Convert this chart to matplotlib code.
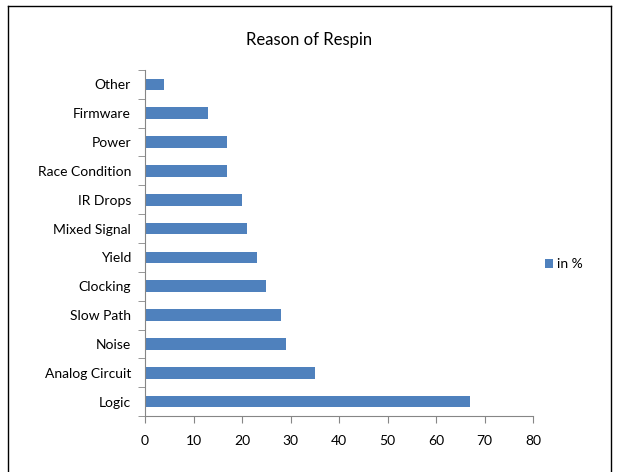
import matplotlib.pyplot as plt
from matplotlib.lines import Line2D

categories = ['Logic', 'Analog Circuit', 'Noise', 'Slow Path', 'Clocking', 'Yield',
              'Mixed Signal', 'IR Drops', 'Race Condition', 'Power', 'Firmware', 'Other']
values = [67, 35, 29, 28, 25, 23, 21, 20, 17, 17, 13, 4]
series_name = 'in %'
x_ticks = [0, 10, 20, 30, 40, 50, 60, 70, 80]

plt.rcParams['font.family'] = ['Lato', 'DejaVu Sans']

fig = plt.figure(figsize=(6.19, 4.72), dpi=100)
ax = fig.add_axes([145 / 619, 1 - 416 / 472, (533 - 145) / 619, (416 - 70) / 472])

bars = ax.barh(range(len(categories)), values, height=0.4, color='#4F81BD', label=series_name)

ax.set_xlim(0, 80)
ax.set_ylim(-0.5, len(categories) - 0.5)
ax.set_xticks(x_ticks)
ax.set_xticklabels([str(t) for t in x_ticks], fontsize=10)
ax.set_yticks(range(len(categories)))
ax.set_yticklabels(categories, fontsize=10)
ax.tick_params(axis='y', length=0, pad=10)
ax.tick_params(axis='x', length=5, color='#868686', pad=9, direction='out')
ax.set_yticks([i - 0.5 for i in range(len(categories) + 1)], minor=True)
ax.tick_params(axis='y', which='minor', length=5, color='#868686', direction='out')

for s in ['top', 'right']:
    ax.spines[s].set_visible(False)
for s in ['left', 'bottom']:
    ax.spines[s].set_color('#868686')

fig.text(0.5, 1 - 40 / 472, 'Reason of Respin', ha='center', va='center', fontsize=12)

fig.legend(handles=[bars], labels=[series_name], loc='center left',
           bbox_to_anchor=(532 / 619, 1 - 264 / 472), frameon=False, fontsize=10,
           handlelength=0.6, handleheight=0.6, handletextpad=0.3)

# chart border
for xs, ys in [([8, 8], [472, 6]), ([8, 611], [6, 6]), ([611, 611], [6, 472])]:
    fig.add_artist(Line2D([x / 619 for x in xs], [1 - y / 472 for y in ys],
                          color='black', lw=1))

fig.savefig('out.png', dpi=100)
